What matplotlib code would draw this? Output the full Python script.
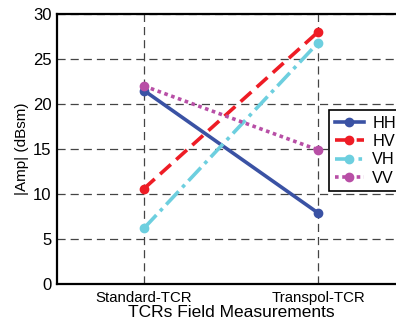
import matplotlib
matplotlib.use("Agg")
import matplotlib.pyplot as plt

plt.rcParams['font.family'] = ['Liberation Sans', 'DejaVu Sans']

categories = ["Standard-TCR", "Transpol-TCR"]
hh = [21.5, 7.9]
hv = [10.6, 28.0]
vh = [6.2, 26.8]
vv = [22.0, 14.9]

fig = plt.figure(figsize=(3.96, 3.22), dpi=100)
ax = fig.add_axes([57 / 396, 38 / 322, 348 / 396, 270 / 322])

x = [1, 2]
ax.plot(x, hh, color="#3A52A4", linestyle="-", lw=2.6, marker="o", ms=6, label="HH")
ax.plot(x, hv, color="#EE1C25", linestyle=(0, (4, 2)), lw=2.6, marker="o", ms=6, label="HV")
ax.plot(x, vh, color="#6DCFDF", linestyle=(0, (5, 1.5, 1, 1.5)), lw=2.6, marker="o", ms=6, label="VH")
ax.plot(x, vv, color="#B84FA6", linestyle=(0, (1, 1)), lw=2.6, marker="o", ms=6, label="VV")

ax.set_xlim(0.5, 2.5)
ax.set_ylim(0, 30)
ax.set_xticks(x)
ax.set_xticklabels(categories, fontsize=10.8)
ax.set_yticks(range(0, 31, 5))
ax.tick_params(axis="y", labelsize=12, length=0, pad=4)
ax.tick_params(axis="x", length=0, pad=5)
ax.grid(True, color="#444444", linestyle=(0, (6.5, 4)), linewidth=0.9)
for s in ax.spines.values():
    s.set_linewidth(1.6)

ax.set_ylabel("|Amp| (dBsm)", fontsize=11, labelpad=3)
ax.set_xlabel("TCRs Field Measurements", fontsize=12.5, labelpad=0)

leg = ax.legend(loc="upper left", bbox_to_anchor=(0.782, 0.644), borderaxespad=0,
                fontsize=11.7, fancybox=False, framealpha=1, edgecolor="black",
                handlelength=1.8, handletextpad=0.5, labelspacing=0.2, borderpad=0.35)
leg.get_frame().set_linewidth(1.2)

fig.savefig("out.png", dpi=100)
